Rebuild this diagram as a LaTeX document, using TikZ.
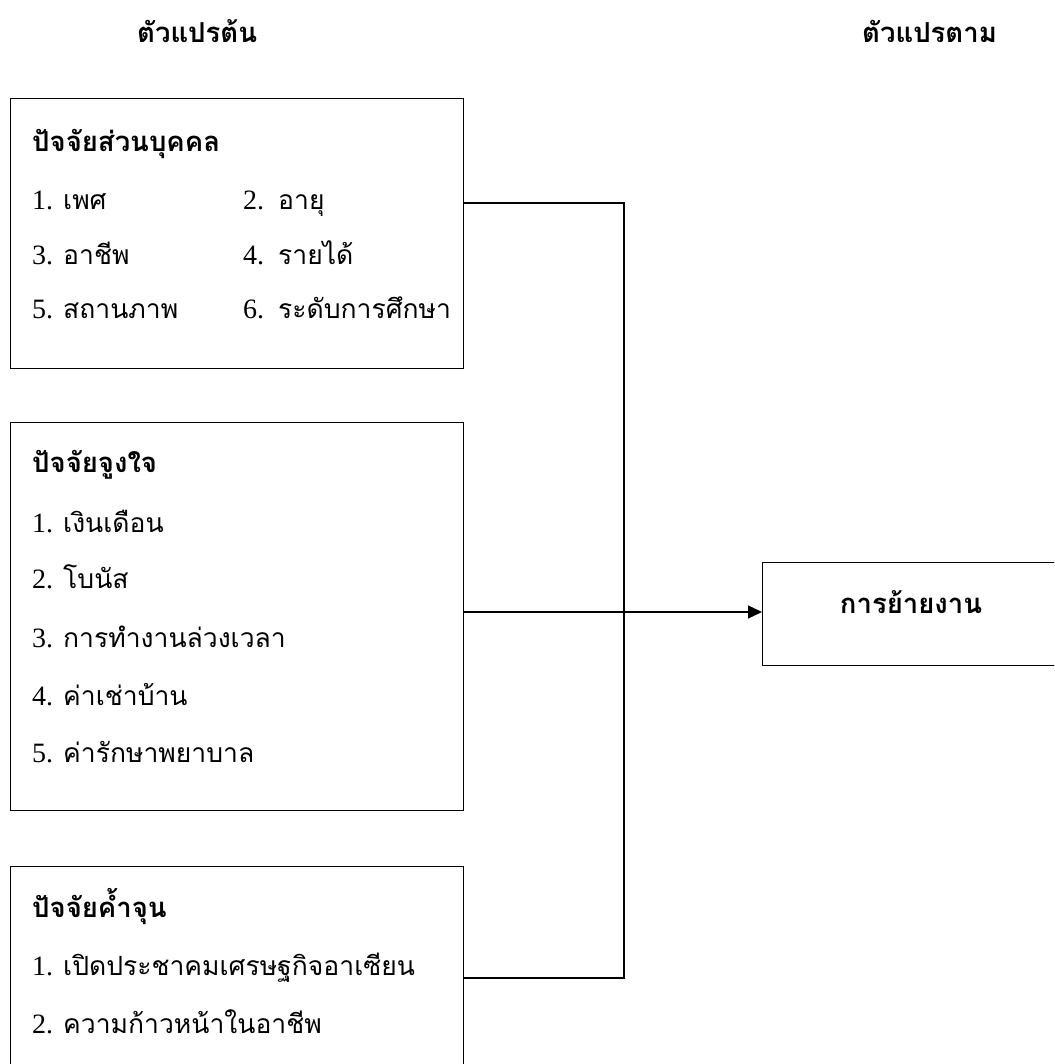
\documentclass[tikz,border=0pt]{standalone}
\usepackage{fontspec}
\setmainfont{Liberation Serif}
\newfontfamily\thaifont[Script=Thai]{Loma}
\usetikzlibrary{arrows.meta}
\begin{document}
\begin{tikzpicture}[x=1pt,y=-1pt,
  frame/.style={draw, line width=1.3pt, minimum width=453pt, anchor=north west, inner sep=0pt},
  txt/.style={anchor=base west, inner sep=0pt, font=\fontsize{28}{30}\selectfont},
  ttl/.style={anchor=base west, inner sep=0pt, font=\fontsize{27.5}{30}\selectfont\thaifont\bfseries},
  link/.style={line width=1.3pt},
  tip/.style={-{Triangle[length=14pt,width=13pt]}}
]
\clip (0,0) rectangle (1054,1064);
\fill[white] (0,0) rectangle (1054,1064);
\newcommand{\tf}{\fontsize{26.5}{30}\selectfont\thaifont}
% headers
\node[ttl] (h1) at (137,43) {ตัวแปรต้น};
\node[ttl] (h2) at (862,43) {ตัวแปรตาม};
% boxes
\node[frame, minimum height=270pt] (b1) at (10,98) {};
\node[frame, minimum height=388pt] (b2) at (10,422) {};
\node[frame, minimum height=230pt] (b3) at (10,866) {};
\node[draw, line width=1.3pt, anchor=north west, minimum width=320pt, minimum height=103pt, inner sep=0pt] (out) at (762,562) {};
% box 1 text
\node[ttl] (t1) at (32,152) {ปัจจัยส่วนบุคคล};
\node[txt] (a1) at (32,210) {\makebox[31pt][l]{1.}{\tf เพศ}};
\node[txt] (a2) at (243,210) {\makebox[35pt][l]{2.}{\tf อายุ}};
\node[txt] (a3) at (32,265) {\makebox[31pt][l]{3.}{\tf อาชีพ}};
\node[txt] (a4) at (243,265) {\makebox[35pt][l]{4.}{\tf รายได้}};
\node[txt] (a5) at (32,318) {\makebox[31pt][l]{5.}{\tf สถานภาพ}};
\node[txt] (a6) at (243,318) {\makebox[35pt][l]{6.}{\tf ระดับการศึกษา}};
% box 2 text
\node[ttl] (t2) at (32,472) {ปัจจัยจูงใจ};
\node[txt] (m1) at (32,532) {\makebox[31pt][l]{1.}{\tf เงินเดือน}};
\node[txt] (m2) at (32,588) {\makebox[31pt][l]{2.}{\tf โบนัส}};
\node[txt] (m3) at (32,647) {\makebox[31pt][l]{3.}{\tf การทำงานล่วงเวลา}};
\node[txt] (m4) at (32,705) {\makebox[31pt][l]{4.}{\tf ค่าเช่าบ้าน}};
\node[txt] (m5) at (32,762) {\makebox[31pt][l]{5.}{\tf ค่ารักษาพยาบาล}};
% box 3 text
\node[ttl] (t3) at (32,917) {ปัจจัยค้ำจุน};
\node[txt] (s1) at (32,975) {\makebox[31pt][l]{1.}{\tf เปิดประชาคมเศรษฐกิจอาเซียน}};
\node[txt] (s2) at (32,1033) {\makebox[31pt][l]{2.}{\tf ความก้าวหน้าในอาชีพ}};
% output text
\node[ttl, anchor=base] (o1) at (911,613) {การย้ายงาน};
% connectors
\coordinate (j1) at (624,203);
\coordinate (j2) at (624,612);
\coordinate (j3) at (624,978);
\draw[link] (b1.east |- j1) -- (j1) -- (j3) -- (b3.east |- j3);
\draw[link, tip] (b2.east |- j2) -- (out.west |- j2);
\end{tikzpicture}
\end{document}
